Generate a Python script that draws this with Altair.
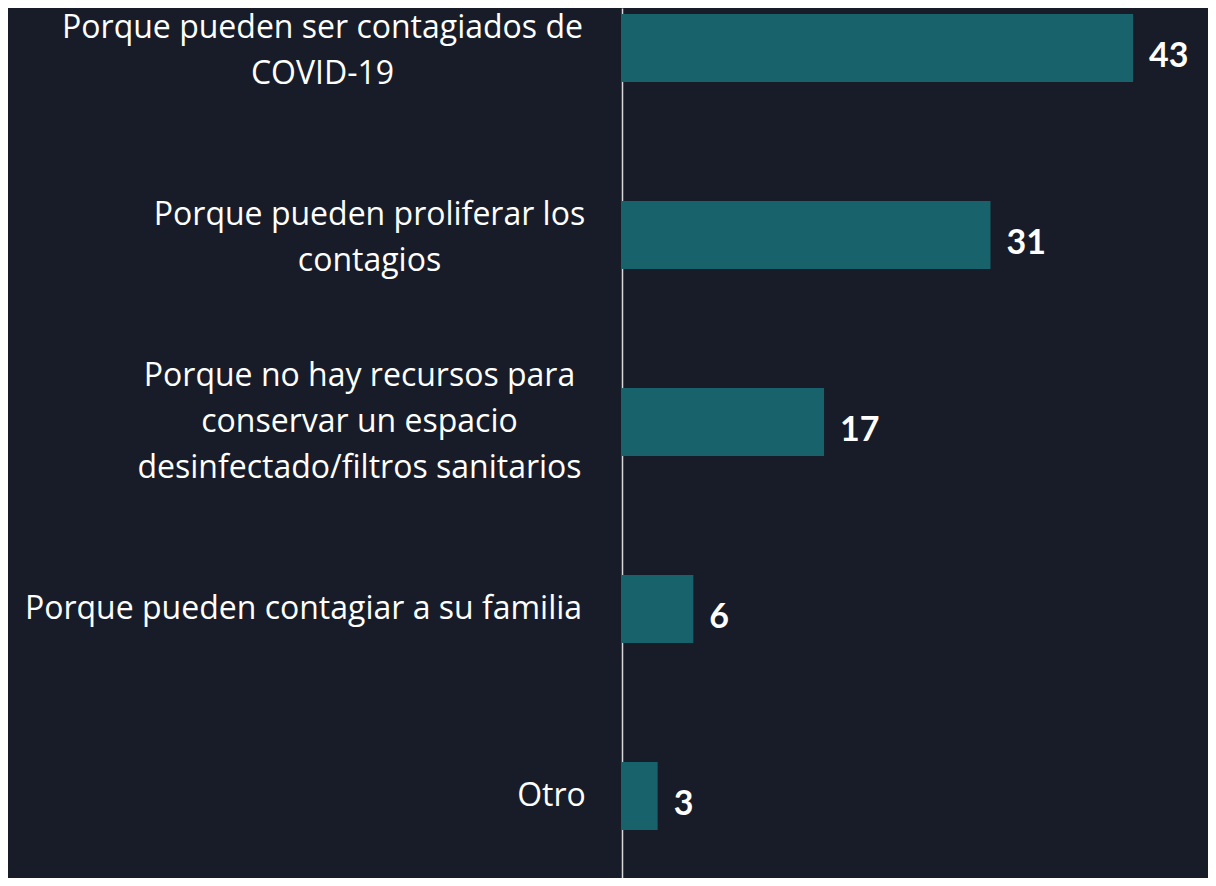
import altair as alt
import pandas as pd

categories = [
    "Porque pueden ser contagiados de|COVID-19",
    "Porque pueden proliferar los|contagios",
    "Porque no hay recursos para|conservar un espacio|desinfectado/filtros sanitarios",
    "Porque pueden contagiar a su familia",
    "Otro",
]
values = [43, 31, 17, 6, 3]

# distance from axis to the centre of each label block (px)
label_pad = [300, 253, 263, 319, 71]

df = pd.DataFrame({"cat": categories, "val": values})

BG = "#171c28"
BAR = "#18636b"
FONT = "Open Sans"
LH = 46

pad_cond = [
    {"test": "datum.value == " + repr(c), "value": p}
    for c, p in zip(categories[:-1], label_pad[:-1])
]
off_cond = [
    {"test": "length(split(datum.value, '|')) == 3", "value": -LH},
    {"test": "length(split(datum.value, '|')) == 2", "value": -LH / 2 + 3},
]

y = alt.Y(
    "cat:N",
    sort=categories,
    scale=alt.Scale(paddingInner=0.636, paddingOuter=0.144, align=0.111),
    axis=alt.Axis(
        title=None,
        domainColor="#d9d9d9",
        domainWidth=1.5,
        ticks=False,
        labelExpr="split(datum.label, '|')",
        labelFont=FONT,
        labelFontSize=32,
        labelColor="#ffffff",
        labelAlign="center",
        labelBaseline="middle",
        labelLineHeight=LH,
        labelLimit=0,
        labelPadding={"condition": pad_cond, "value": label_pad[-1]},
        labelOffset={"condition": off_cond, "value": 0},
        minExtent=614,
        maxExtent=614,
        grid=False,
    ),
)

x = alt.X("val:Q", scale=alt.Scale(domain=[0, 49.3], nice=False, zero=True), axis=None)

bars = alt.Chart(df).mark_bar(color=BAR).encode(x=x, y=y)

text = alt.Chart(df).mark_text(
    align="left", baseline="middle", dx=16, dy=9,
    font="Lato", fontSize=34, fontWeight="bold", color="#ffffff",
).encode(x=x, y=y, text="val:Q")

chart = (
    alt.layer(bars, text)
    .properties(width=586, height=870, background=BG, padding=0)
    .configure_view(stroke=None, fill=BG)
)

chart.save("out.html", embed_options={"renderer": "svg", "actions": False})
